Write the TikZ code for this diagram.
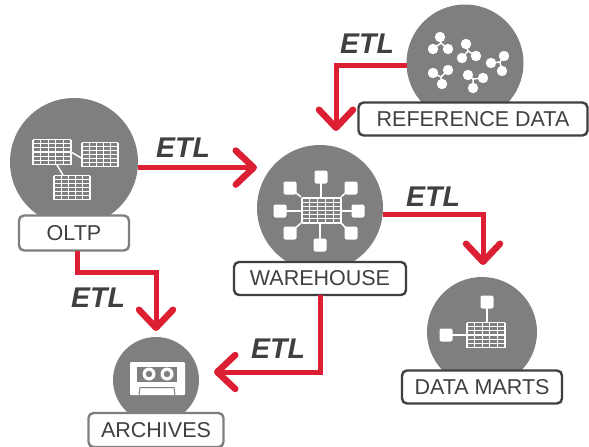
\documentclass[tikz,border=0pt]{standalone}
\usepackage{fontspec}
\setmainfont{Liberation Sans}
\usetikzlibrary{arrows.meta}
\definecolor{etlred}{HTML}{DC1F33}
\definecolor{discgray}{HTML}{7F7F7F}
\definecolor{textgray}{HTML}{404040}
\tikzstyle{disc} = [circle, fill=discgray, inner sep=0pt, outer sep=0pt]
\tikzstyle{tag} = [rectangle, rounded corners=5pt, line width=2.4pt, fill=white, text=textgray, font=\fontsize{21.5}{21.5}\selectfont, inner sep=0pt, outer sep=0pt, minimum height=33pt]
\tikzstyle{etl} = [line width=5pt, draw=etlred, -{Straight Barb[length=18pt,width=34pt,round,line width=6.5pt]}]
\tikzstyle{etltext} = [text=textgray, font=\fontsize{28.5}{28.5}\selectfont\bfseries\itshape, inner sep=0pt]
\tikzstyle{gridline} = [draw=white, line width=1.3pt]
\tikzstyle{wire} = [draw=white, line width=1.5pt]
\tikzstyle{block} = [fill=white, rounded corners=2pt]
\tikzstyle{dot} = [fill=white]
% table icon: left, top, width, height
\newcommand{\tablegrid}[4]{
  \foreach \i in {0,...,5} \draw[gridline] (#1+\i*#3/5,#2) -- (#1+\i*#3/5,#2+#4);
  \foreach \j in {0,...,6} \draw[gridline] (#1,#2+\j*#4/6) -- (#1+#3,#2+\j*#4/6);
}
% square icon: centre
\newcommand{\squareblock}[2]{
  \fill[block] (#1-6.5,#2-6.5) rectangle (#1+6.5,#2+6.5);
}
% molecule icon: joint, then three dots
\newcommand{\molecule}[8]{
  \draw[wire] (#1,#2) -- (#3,#4) (#1,#2) -- (#5,#6) (#1,#2) -- (#7,#8);
  \fill[dot] (#3,#4) circle (5.2) (#5,#6) circle (5.2) (#7,#8) circle (5.2);
}
\begin{document}
\begin{tikzpicture}[x=1pt, y=-1pt]
\useasboundingbox (0,0) rectangle (589,447);

% Discs
\node (oltp) [disc, minimum size=128pt] at (74,162) {};
\node (warehouse) [disc, minimum size=126pt] at (320,208) {};
\node (reference) [disc, minimum size=117pt] at (465,63) {};
\node (archives) [disc, minimum size=86pt] at (156,380) {};
\node (marts) [disc, minimum size=110pt] at (482,332) {};

% Tags
\node (oltptag) [tag, draw=discgray, minimum width=110pt, minimum height=35pt] at (74,233) {OLTP};
\node (warehousetag) [tag, draw=textgray, minimum width=172pt] at (320,278.5) {WAREHOUSE};
\node (referencetag) [tag, draw=textgray, minimum width=229pt] at (473,119) {REFERENCE DATA};
\node (archivestag) [tag, draw=discgray, minimum width=135pt, minimum height=34pt] at (156,430) {ARCHIVES};
\node (martstag) [tag, draw=textgray, minimum width=160pt] at (482,387) {DATA MARTS};

% Free arrow ends
\coordinate (refin) at (336,131);
\coordinate (martsin) at (483,265);
\coordinate (archtop) at (156,331);
\coordinate (archside) at (214,372);

% Arrows
\draw [etl] (oltp.-5) -- (oltp.-5 -| warehouse.west);
\draw [etl] (reference.182) -| (refin);
\draw [etl] (warehouse.-6) -| (martsin);
\draw [etl] ([xshift=3pt]oltptag.south) |- (110,272) -| (archtop);
\draw [etl] (warehousetag.south) |- (archside);

% ETL labels
\node (etla) [etltext] at (183,148) {ETL};
\node (etlb) [etltext] at (367,44) {ETL};
\node (etlc) [etltext] at (433,197) {ETL};
\node (etld) [etltext] at (98,298) {ETL};
\node (etle) [etltext] at (278,349) {ETL};

% OLTP icon
\draw[wire] (71,152) -- (83,159);
\draw[wire] (57,165) -- (63,175);
\tablegrid{33}{139.5}{38}{25}
\tablegrid{82}{142.5}{36}{24}
\tablegrid{54}{175.5}{36}{24}

% Warehouse icon
\draw[wire] (321,177) -- (321,197) (320,223) -- (320,245);
\draw[wire] (280,211) -- (301,211) (341,211) -- (358,211);
\draw[wire] (290,188) -- (301,197) (351,188) -- (341,197);
\draw[wire] (290,233) -- (301,223) (351,233) -- (341,223);
\tablegrid{302}{198}{39}{25}
\squareblock{321}{177}
\squareblock{320}{245}
\squareblock{280}{211}
\squareblock{358}{211}
\squareblock{290}{188}
\squareblock{351}{188}
\squareblock{290}{233}
\squareblock{351}{233}

% Data marts icon
\draw[wire] (487,302) -- (487,322) (446,335) -- (467,335);
\tablegrid{467}{322.5}{38}{25}
\squareblock{487}{302}
\squareblock{446}{335}

% Reference data icon
\molecule{441}{43}{440}{37}{433}{49}{448}{49}
\molecule{468}{51}{466}{44}{462}{58}{476}{56}
\molecule{500}{62}{504}{56}{491}{63}{502}{71}
\molecule{441}{77}{433}{73}{448}{70}{442}{84}
\molecule{473}{79}{468}{75}{483}{78}{473}{88}

% Archives icon
\fill[white, rounded corners=1pt] (130,362) rectangle (185,395);
\fill[discgray] (137,367) rectangle (177,382);
\fill[white] (149,374) circle (6.5) (167,374) circle (6.5);
\fill[discgray] (149,374) circle (3.2) (167,374) circle (3.2);
\draw[discgray, line width=1pt] (139,395) -- (140,387.5) -- (174,387.5) -- (175,395);

\end{tikzpicture}
\end{document}
